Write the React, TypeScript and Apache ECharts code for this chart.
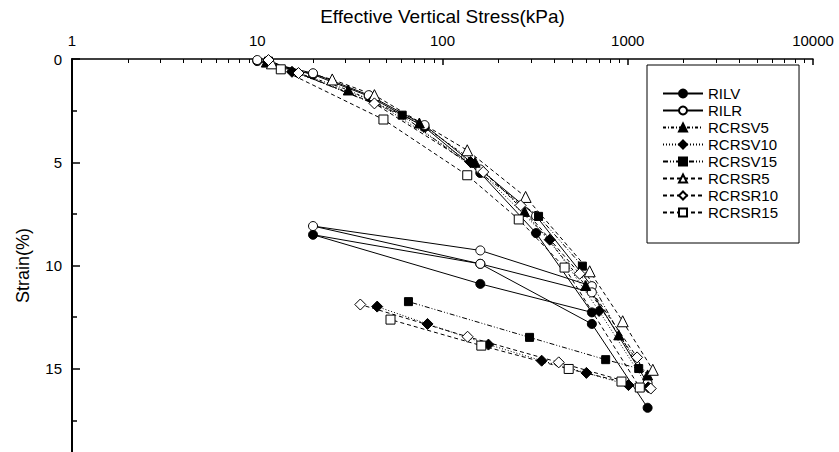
import React, { useEffect, useRef } from "react";
import * as echarts from "echarts";

// Axis ticks
const stressMajorTicks = [1, 10, 100, 1000, 10000];
const stressMinorTicks = [
  2, 3, 4, 5, 6, 7, 8, 9,
  20, 30, 40, 50, 60, 70, 80, 90,
  200, 300, 400, 500, 600, 700, 800, 900,
  2000, 3000, 4000, 5000, 6000, 7000, 8000, 9000,
];

// RILV
const rilvStress = [10, 20, 40, 80, 160, 320, 640, 160, 20, 160, 640, 1280];
const rilvStrain = [0.1, 0.75, 1.8, 3.3, 5.52, 8.43, 12.27, 10.89, 8.51, 9.92, 12.83, 16.89];
// RILR
const rilrStress = [10, 20, 40, 80, 160, 320, 640, 160, 20, 160, 640, 1280];
const rilrStrain = [0.05, 0.69, 1.75, 3.2, 5.35, 7.6, 11.0, 9.27, 8.09, 9.92, 11.3, 15.7];
// RCRSV5
const rcrsv5Stress = [11.2, 31, 75, 150, 277, 593, 894, 1280];
const rcrsv5Strain = [0.15, 1.5, 3.1, 5.0, 7.38, 10.97, 13.36, 15.3];
// RCRSV10
const rcrsv10Stress = [11.5, 15.4, 42, 141.6, 379, 700, 1290, 1009, 598, 343, 177, 83, 44.4];
const rcrsv10Strain = [0.1, 0.62, 2.0, 4.99, 8.75, 12.2, 15.9, 15.79, 15.2, 14.61, 13.83, 12.83, 11.99];
// RCRSV15
const rcrsv15Stress = [11.5, 60.6, 330, 569, 1146, 760, 295, 65.5];
const rcrsv15Strain = [0.1, 2.72, 7.62, 10.03, 14.99, 14.56, 13.48, 11.75];
// RCRSR5
const rcrsr5Stress = [12, 25.4, 42.9, 136, 281, 623, 939, 1365];
const rcrsr5Strain = [0.21, 0.99, 1.75, 4.42, 6.68, 10.28, 12.7, 15.05];
// RCRSR10
const rcrsr10Stress = [11.5, 16.7, 42.9, 166, 264, 550, 1123, 1331, 424, 136.6, 36];
const rcrsr10Strain = [0.05, 0.68, 2.15, 5.47, 7.09, 10.4, 14.45, 15.96, 14.69, 13.45, 11.89];
// RCRSR15
const rcrsr15Stress = [13.4, 48, 136, 258, 456, 1161, 925, 480, 162, 52.4];
const rcrsr15Strain = [0.5, 2.93, 5.63, 7.77, 10.1, 15.91, 15.62, 15.01, 13.88, 12.62];

// Strain tick labels shown
const strainLabels = [0, 5, 10, 15];

const FONT = "'Liberation Sans', Arial, Helvetica, sans-serif";

const zip = (xs: number[], ys: number[]) => xs.map((x, i) => [x, ys[i]]);

function makeSeries(
  name: string,
  xs: number[],
  ys: number[],
  symbol: string,
  filled: boolean,
  dash: any,
  size: number
) {
  return {
    name,
    type: "line",
    xAxisIndex: 0,
    yAxisIndex: 0,
    data: zip(xs, ys),
    symbol,
    symbolSize: size,
    showAllSymbol: true,
    lineStyle: { color: "#000", width: 1, type: dash },
    itemStyle: {
      color: filled ? "#000" : "#fff",
      borderColor: "#000",
      borderWidth: 1,
    },
    emphasis: { disabled: true },
  };
}

export default function App() {
  const ref = useRef<HTMLDivElement>(null);
  useEffect(() => {
    if (!ref.current) return;
    const chart = echarts.init(ref.current, undefined, { renderer: "svg" });
    const gridPos = { left: 72, top: 59, right: 26, bottom: 0 };
    chart.setOption({
      animation: false,
      backgroundColor: "#fff",
      grid: [gridPos, { ...gridPos }],
      legend: {
        orient: "vertical",
        left: 647,
        top: 65,
        padding: [21, 21, 23, 15],
        itemWidth: 40,
        itemHeight: 10,
        itemGap: 2,
        borderColor: "#000",
        borderWidth: 1,
        backgroundColor: "#fff",
        textStyle: { fontSize: 15, color: "#000", fontFamily: FONT, lineHeight: 15 },
        data: ["RILV", "RILR", "RCRSV5", "RCRSV10", "RCRSV15", "RCRSR5", "RCRSR10", "RCRSR15"],
      },
      xAxis: [
        {
          type: "log",
          logBase: 10,
          min: 1,
          max: 10000,
          position: "top",
          gridIndex: 0,
          name: "Effective Vertical Stress(kPa)",
          nameLocation: "middle",
          nameGap: 33,
          nameTextStyle: { fontSize: 19, color: "#000", fontFamily: FONT },
          axisLine: { lineStyle: { color: "#000", width: 1.5 } },
          axisTick: { inside: true, length: 6, lineStyle: { color: "#000", width: 1.5 }, customValues: stressMajorTicks },
          axisLabel: {
            color: "#000",
            fontSize: 15,
            fontFamily: FONT,
            margin: 11,
            customValues: stressMajorTicks,
            formatter: (v: number) => String(Math.round(v)),
          },
          splitLine: { show: false },
          minorTick: { show: false },
        },
        {
          type: "log",
          logBase: 10,
          min: 1,
          max: 10000,
          position: "top",
          gridIndex: 1,
          axisLine: { show: false },
          axisTick: { inside: true, length: 4, lineStyle: { color: "#000", width: 1 }, customValues: stressMinorTicks },
          axisLabel: { show: false },
          splitLine: { show: false },
        },
      ],
      yAxis: [
        {
          type: "value",
          inverse: true,
          min: 0,
          max: 20,
          interval: 5,
          gridIndex: 0,
          name: "Strain(%)",
          nameLocation: "middle",
          nameRotate: 90,
          nameGap: 40,
          nameTextStyle: { fontSize: 18, color: "#000", fontFamily: FONT },
          axisLine: { lineStyle: { color: "#000", width: 2 } },
          axisTick: { inside: true, length: 8, lineStyle: { color: "#000", width: 1.5 } },
          minorTick: { show: true, splitNumber: 2, length: 5, lineStyle: { color: "#000", width: 1.5 } },
          axisLabel: {
            color: "#000",
            fontSize: 15,
            fontFamily: FONT,
            margin: 10,
            customValues: strainLabels,
          },
          splitLine: { show: false },
        },
        {
          type: "value",
          inverse: true,
          min: 0,
          max: 20,
          gridIndex: 1,
          show: false,
        },
      ],
      series: [
        makeSeries("RILV", rilvStress, rilvStrain, "circle", true, "solid", 9),
        makeSeries("RILR", rilrStress, rilrStrain, "circle", false, "solid", 9),
        makeSeries("RCRSV5", rcrsv5Stress, rcrsv5Strain, "triangle", true, [3, 2, 1, 2], 10),
        makeSeries("RCRSV10", rcrsv10Stress, rcrsv10Strain, "diamond", true, [1, 2], 11),
        makeSeries("RCRSV15", rcrsv15Stress, rcrsv15Strain, "rect", true, [5, 2, 1, 2, 1, 2], 8),
        makeSeries("RCRSR5", rcrsr5Stress, rcrsr5Strain, "triangle", false, [4, 3], 11),
        makeSeries("RCRSR10", rcrsr10Stress, rcrsr10Strain, "diamond", false, [4, 3], 11),
        makeSeries("RCRSR15", rcrsr15Stress, rcrsr15Strain, "rect", false, [4, 3], 9),
      ],
    });
    return () => chart.dispose();
  }, []);
  return (
    <div
      ref={ref}
      style={{ position: "fixed", left: 0, top: 0, width: 839, height: 472, background: "#fff" }}
    />
  );
}
